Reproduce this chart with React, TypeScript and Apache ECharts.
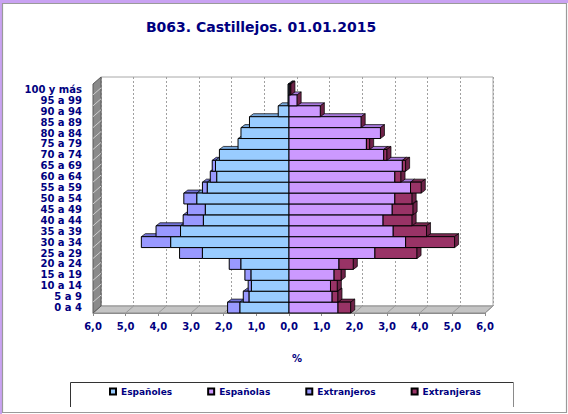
import React, { useEffect, useRef } from 'react';
import * as echarts from 'echarts';

// Age groups, bottom to top
const categories = [
  '0 a 4', '5 a 9', '10 a 14', '15 a 19', '20 a 24', '25 a 29', '30 a 34',
  '35 a 39', '40 a 44', '45 a 49', '50 a 54', '55 a 59', '60 a 64', '65 a 69',
  '70 a 74', '75 a 79', '80 a 84', '85 a 89', '90 a 94', '95 a 99', '100 y más',
];
// Percentages
const espanoles = [1.50, 1.22, 1.15, 1.16, 1.47, 2.65, 3.62, 3.32, 2.62, 2.56, 2.82, 2.50, 2.21, 2.25, 2.13, 1.56, 1.47, 1.21, 0.33, 0.03, 0.03];
const extranjeros = [0.38, 0.18, 0.10, 0.19, 0.36, 0.70, 0.90, 0.75, 0.62, 0.55, 0.40, 0.15, 0.20, 0.10, 0, 0, 0, 0, 0, 0, 0];
const espanolas = [1.50, 1.32, 1.27, 1.38, 1.53, 2.63, 3.57, 3.19, 2.88, 3.16, 3.24, 3.72, 3.24, 3.47, 2.90, 2.37, 2.80, 2.21, 0.96, 0.25, 0.03];
const extranjeras = [0.39, 0.18, 0.21, 0.22, 0.44, 1.29, 1.50, 1.02, 0.89, 0.64, 0.53, 0.33, 0.19, 0.10, 0.10, 0.10, 0, 0, 0, 0, 0.03];

const xMin = -6;
const xMax = 6;
const xStep = 1;

const TITLE = 'B063. Castillejos. 01.01.2015';
const NAVY = '#000080';
const FONT = 'DejaVu Sans';

// layout (front plane & depth)
const FL = 93, FR = 485, FT = 84, FB = 313;
const DX = 8, DY = 7; // wall depth
const BDX = 4, BDY = 3; // bar depth

type SegCfg = { front: string; top: string; side?: string; order: number };

function makeRender(cfg: SegCfg) {
  return (params: any, api: any) => {
    const i = api.value(0);
    const a = api.value(1);
    const b = api.value(2);
    const pa = api.coord([a, i]);
    const pb = api.coord([b, i]);
    const h = api.size([0, 1])[1];
    const x0 = Math.min(pa[0], pb[0]);
    const x1 = Math.max(pa[0], pb[0]);
    const yT = pa[1] - h / 2;
    const base = i * 20 + cfg.order * 4;
    const children: any[] = [];
    if (x1 - x0 > 0.3) {
      children.push({
        type: 'polygon', z2: base,
        shape: { points: [[x0, yT], [x1, yT], [x1 + BDX, yT - BDY], [x0 + BDX, yT - BDY]] },
        style: { fill: cfg.top, stroke: '#000', lineWidth: 0.7 },
      });
      children.push({
        type: 'rect', z2: base + 1,
        shape: { x: x0, y: yT, width: x1 - x0, height: h },
        style: { fill: cfg.front, stroke: '#000', lineWidth: 1 },
      });
    }
    if (cfg.side) {
      children.push({
        type: 'polygon', z2: base + 2,
        shape: { points: [[x1, yT], [x1 + BDX, yT - BDY], [x1 + BDX, yT + h - BDY], [x1, yT + h]] },
        style: { fill: cfg.side, stroke: '#000', lineWidth: 0.7 },
      });
    }
    return { type: 'group', children };
  };
}

export default function App() {
  const ref = useRef<HTMLDivElement>(null);
  useEffect(() => {
    if (!ref.current) return;
    const chart = echarts.init(ref.current, null, { renderer: 'svg' });

    const n = categories.length;
    const dMale1 = categories.map((_, i) => [i, -espanoles[i], 0]);
    const dMale2 = categories.map((_, i) => [i, -(espanoles[i] + extranjeros[i]), -espanoles[i]]);
    const dFem1 = categories.map((_, i) => [i, 0, espanolas[i]]);
    const dFem2 = categories.map((_, i) => [i, espanolas[i], espanolas[i] + extranjeras[i]]);

    const unit = (FR - FL) / (xMax - xMin);
    const graphics: any[] = [];
    // page border
    graphics.push({ type: 'rect', z: 20, silent: true, shape: { x: 0, y: 0, width: 568, height: 3 }, style: { fill: '#c9a2f2' } });
    graphics.push({ type: 'rect', z: 20, silent: true, shape: { x: 0, y: 0, width: 2, height: 414 }, style: { fill: '#c9a2f2' } });
    graphics.push({ type: 'rect', z: 20, silent: true, shape: { x: 2.5, y: 3.5, width: 564, height: 409 }, style: { fill: 'none', stroke: '#9a9a9a', lineWidth: 1.2 } });
    // floor
    graphics.push({
      type: 'polygon', z: 1, silent: true,
      shape: { points: [[FL, FB], [FR, FB], [FR + DX, FB - DY], [FL + DX, FB - DY]] },
      style: { fill: '#c4c4c4', stroke: '#8c8c8c', lineWidth: 1 },
    });
    for (let k = 0; k <= (xMax - xMin) / xStep; k++) {
      const x = FL + k * unit * xStep;
      graphics.push({ type: 'line', z: 1, silent: true, shape: { x1: x, y1: FB, x2: x + DX, y2: FB - DY }, style: { stroke: '#9a9a9a', lineWidth: 1 } });
    }
    // left wall
    graphics.push({
      type: 'polygon', z: 1, silent: true,
      shape: { points: [[FL, FT], [FL + DX, FT - DY], [FL + DX, FB - DY], [FL, FB]] },
      style: { fill: '#8a8a8a', stroke: '#5a5a5a', lineWidth: 1 },
    });
    const bandH = (FB - FT) / n;
    for (let k = 1; k < n; k++) {
      const y = FT + k * bandH;
      graphics.push({ type: 'line', z: 1, silent: true, shape: { x1: FL, y1: y, x2: FL + DX, y2: y - DY }, style: { stroke: '#cfcfcf', lineWidth: 1 } });
    }
    // legend box
    graphics.push({ type: 'polyline', z: 1, silent: true, shape: { points: [[70.5, 407], [70.5, 382.5], [513.5, 382.5]] }, style: { stroke: '#333', lineWidth: 1, fill: 'none' } });
    graphics.push({ type: 'line', z: 1, silent: true, shape: { x1: 513.5, y1: 382.5, x2: 513.5, y2: 407 }, style: { stroke: '#8a8a8a', lineWidth: 1 } });

    const seriesBase = { type: 'custom', xAxisIndex: 0, yAxisIndex: 0, encode: { x: [1, 2], y: 0 }, clip: false } as any;

    chart.setOption({
      animation: false,
      backgroundColor: '#ffffff',
      title: {
        text: TITLE, left: 256, top: 15, textAlign: 'center',
        textStyle: { fontFamily: FONT, fontWeight: 'bold', fontSize: 14, color: NAVY },
      },
      legend: {
        left: 109, top: 387, padding: 0, itemGap: 35, itemWidth: 6, itemHeight: 6, icon: 'rect',
        data: ['Españoles', 'Españolas', 'Extranjeros', 'Extranjeras'],
        textStyle: { fontFamily: FONT, fontWeight: 'bold', fontSize: 9, color: NAVY },
      },
      grid: [
        { left: FL, top: FT, width: FR - FL, height: FB - FT },
        { left: FL + DX, top: FT - DY, width: FR - FL, height: FB - FT, show: true, backgroundColor: '#fff', borderColor: '#a8a8a8', borderWidth: 1 },
      ],
      xAxis: [
        {
          gridIndex: 0, type: 'value', min: xMin, max: xMax, interval: xStep,
          axisLine: { show: true, onZero: false, lineStyle: { color: '#8c8c8c' } },
          axisTick: { show: true, length: 3, lineStyle: { color: '#8c8c8c' } },
          splitLine: { show: false },
          axisLabel: {
            margin: 8, color: NAVY, fontFamily: FONT, fontWeight: 'bold', fontSize: 10,
            formatter: (v: number) => Math.abs(v).toFixed(1).replace('.', ','),
          },
          name: '%', nameLocation: 'middle', nameGap: 40,
          nameTextStyle: { color: NAVY, fontFamily: FONT, fontWeight: 'bold', fontSize: 10, padding: [0, 0, 0, 16] },
        },
        {
          gridIndex: 1, type: 'value', min: xMin, max: xMax, interval: xStep,
          axisLine: { show: false }, axisTick: { show: false }, axisLabel: { show: false },
          splitLine: { show: true, lineStyle: { color: '#a0a0a0', type: [2, 2], width: 1 } },
        },
      ],
      yAxis: [
        {
          gridIndex: 0, type: 'category', data: categories,
          axisLine: { show: false }, axisTick: { show: false },
          axisLabel: { interval: 0, margin: 11, color: NAVY, fontFamily: FONT, fontWeight: 'bold', fontSize: 10 },
        },
        { gridIndex: 1, type: 'value', min: 0, max: 1, show: false },
      ],
      graphic: graphics,
      series: [
        { ...seriesBase, name: 'Españoles', data: dMale1, itemStyle: { color: '#99CCFF', borderColor: '#000', borderWidth: 1 },
          renderItem: makeRender({ front: '#99CCFF', top: '#78a8dc', order: 2 }) },
        { ...seriesBase, name: 'Españolas', data: dFem1, itemStyle: { color: '#CC99FF', borderColor: '#000', borderWidth: 1 },
          renderItem: makeRender({ front: '#CC99FF', top: '#a878dc', order: 3 }) },
        { ...seriesBase, name: 'Extranjeros', data: dMale2, itemStyle: { color: '#9999FF', borderColor: '#000', borderWidth: 1 },
          renderItem: makeRender({ front: '#9999FF', top: '#7373d8', order: 1 }) },
        { ...seriesBase, name: 'Extranjeras', data: dFem2, itemStyle: { color: '#993366', borderColor: '#000', borderWidth: 1 },
          renderItem: makeRender({ front: '#993366', top: '#7a2850', side: '#6e2248', order: 4 }) },
      ],
    });
    return () => chart.dispose();
  }, []);
  return <div ref={ref} style={{ position: 'fixed', left: 0, top: 0, width: 568, height: 414 }} />;
}
